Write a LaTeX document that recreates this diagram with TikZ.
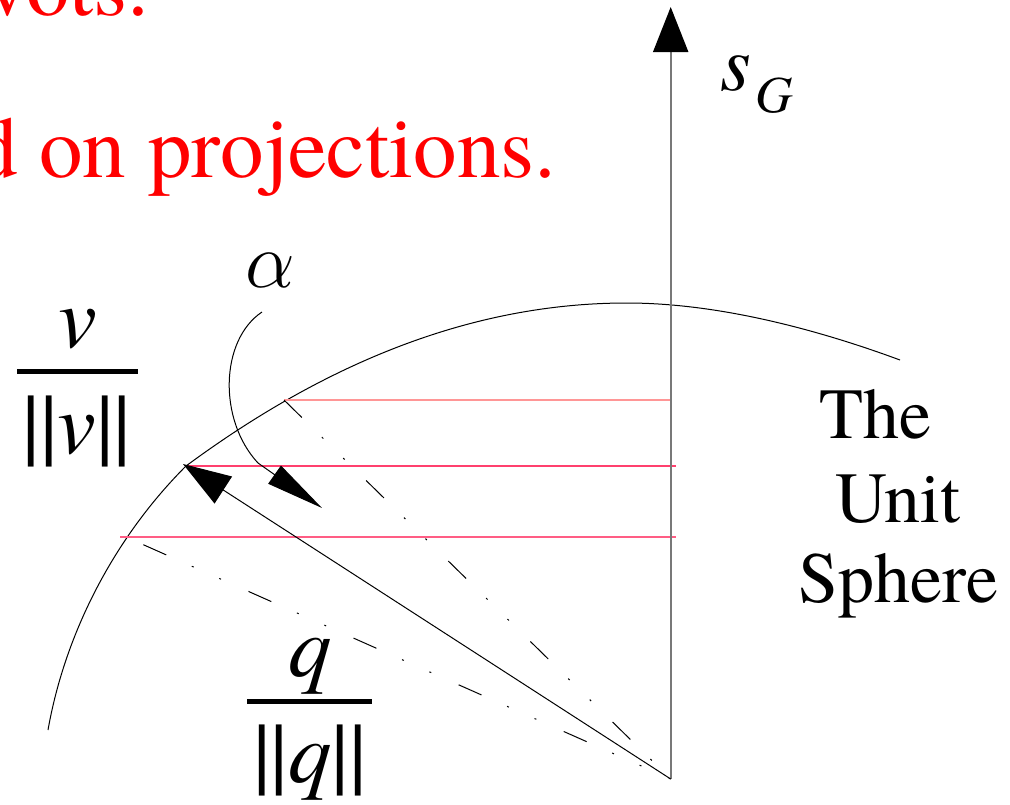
\RequirePackage{fix-cm}
\documentclass[tikz,border=0pt]{standalone}
\usepackage{fontspec}
\setmainfont{texgyretermes}[
    Extension=.otf,
    UprightFont=*-regular,
    ItalicFont=*-italic,
    BoldFont=*-bold,
    BoldItalicFont=*-bolditalic]
\usepackage{xcolor}
\usepackage{tikz}
\usetikzlibrary{arrows.meta}
\definecolor{projred}{RGB}{255,0,0}
\definecolor{levelsalmon}{RGB}{255,150,150}
\definecolor{levelpink}{RGB}{255,64,110}
\definecolor{axisgray}{RGB}{120,120,120}
\tikzset{
    biglbl/.style={inner sep=0pt, font=\fontsize{87}{87}\selectfont},
    midlbl/.style={inner sep=0pt, font=\fontsize{79}{79}\selectfont},
    spherelbl/.style={inner sep=0pt, font=\fontsize{72}{72}\selectfont, anchor=base},
    fracbar/.style={line width=5pt},
    levelline/.style={line width=1.5pt},
    dashdot/.style={line width=1pt, dash pattern=on 25pt off 28pt on 2pt off 28pt on 2pt off 30pt}
}

\begin{document}
\begin{tikzpicture}[x=1pt, y=-1pt, line width=1pt]

\useasboundingbox[fill=white] (0,0) rectangle (1010,804);

% origin, axis and points on the sphere
\coordinate (origin) at (670.7,779);
\coordinate (axistop) at (670.7,7);
\coordinate (vup) at (284,400);
\coordinate (qlvl) at (188,466);
\coordinate (qtip) at (183,464);
\coordinate (vlow) at (126,537);
\coordinate (lowlvl) at (120,537);
\coordinate (alphastart) at (262,312);
\coordinate (alphakink) at (258,463);
\coordinate (alphatip) at (322,508);

% red text, cut off at the left
\node[biglbl, text=projred, anchor=base east] (pivtxt) at (150,15) {vots.};
\node[biglbl, text=projred, anchor=base east] (projtxt) at (557,177) {d on projections.};

% the unit sphere
\draw (48,730) .. controls (65.4,631.5) and (115.3,536.7) .. (186,466)
    .. controls (331,359) and (477,303) .. (627,303)
    .. controls (717,303) and (815.6,328.8) .. (900,360);

% levels
\draw[levelline, levelsalmon] (vup) -- (vup -| origin);
\draw[levelline, levelpink] (qlvl) -- ([xshift=5pt]qlvl -| origin);
\draw[levelline, levelpink!85!white] (lowlvl) -- ([xshift=5pt]lowlvl -| origin);

% projections
\draw[dashdot] (vup) -- (origin);
\draw[dashdot, dash phase=96pt] (vlow) -- (origin);

% axis and vector
\draw[axisgray, line width=2pt, -{Triangle[length=45pt,width=35pt,color=black]}] (origin) -- (axistop);
\draw[-{Triangle[length=48pt,width=32pt]}] (origin) -- (qtip);
\draw[-{Triangle[length=58pt,width=22pt]}] (alphastart) .. controls (220,340) and (218,420) .. (alphakink) -- (alphatip);

% labels
\node[midlbl, anchor=base] (alphalbl) at (270,287) {$\alpha$};
\node[midlbl, anchor=base west] (sglbl) at (720,90) {\textit{s}\hspace{4pt}\raisebox{-22pt}{\fontsize{52}{52}\selectfont\textit{G}}};

\node[biglbl, anchor=base] (vnum) at (78,347) {\textit{v}};
\draw[fracbar] (17,371) -- (138,371);
\node[biglbl, anchor=base] (vden) at (77,453) {||\textit{v}||};

\node[biglbl, anchor=base] (qnum) at (310,676) {\textit{q}};
\draw[fracbar] (247,701) -- (372,701);
\node[biglbl, anchor=base] (qden) at (310,782) {||\textit{q}||};

\node[spherelbl] (thelbl) at (875,438) {The};
\node[spherelbl] (unitlbl) at (898,522) {Unit};
\node[spherelbl] (spherelbl) at (898,602) {Sphere};

\end{tikzpicture}
\end{document}
